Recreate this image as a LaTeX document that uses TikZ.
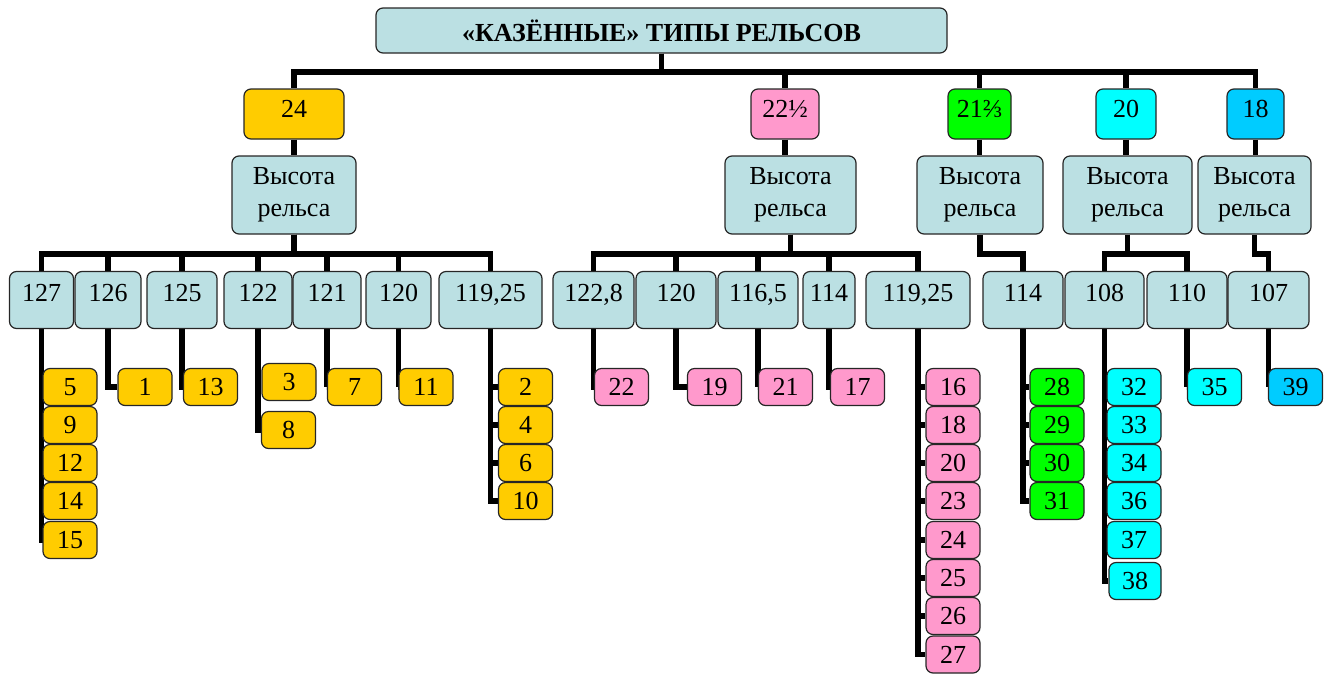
\documentclass[tikz,border=0pt]{standalone}
\usepackage{fontspec}
\setmainfont{Liberation Serif}
\newfontfamily\fracfont{DejaVu Serif}
\usetikzlibrary{backgrounds}
\definecolor{boxblue}{HTML}{BBE0E3}
\definecolor{cyel}{HTML}{FFCC00}
\definecolor{cpink}{HTML}{FF99CC}
\definecolor{cgreen}{HTML}{00FF00}
\definecolor{ccyan}{HTML}{00FFFF}
\definecolor{csky}{HTML}{00CCFF}
\newcommand\myhalf{\iffontchar\font"00BD ½\else{\fracfont ½}\fi}
\newcommand\mytwothirds{\iffontchar\font"2154 ⅔\else{\fracfont ⅔}\fi}
\tikzset{
  box/.style={draw=black!85, line width=1.2pt, rounded corners=7pt, inner sep=0pt,
    align=center, font=\fontsize{26}{32}\selectfont},
  titlebox/.style={box, fill=boxblue, minimum width=571, minimum height=45,
    font=\bfseries\fontsize{26}{30}\selectfont},
  lvlone/.style={box, minimum height=50, text height=17.5pt, text depth=10.5pt},
  heightbox/.style={box, fill=boxblue, minimum height=78},
  lvlthree/.style={box, fill=boxblue, minimum height=57, text height=17.5pt, text depth=15.5pt},
  leafbox/.style={box, minimum width=54, minimum height=37},
  conn/.style={line width=5.6pt, line join=miter, draw=black}
}
\begin{document}
\begin{tikzpicture}[x=1pt, y=-1pt]
\useasboundingbox (0,0) rectangle (1338,673);
% coordinates of the buses
\coordinate (busA) at (0,72);
\coordinate (busB) at (0,254);
% title
\node[titlebox] (title) at (661.5,30.5) {«КАЗЁННЫЕ» ТИПЫ РЕЛЬСОВ};
% level 1
\node[lvlone, fill=cyel, minimum width=100] (l24) at (294,114) {24};
\node[lvlone, fill=cpink, minimum width=68] (l22) at (785,114) {22\myhalf};
\node[lvlone, fill=cgreen, minimum width=63] (l21) at (979.5,114) {21\mytwothirds};
\node[lvlone, fill=ccyan, minimum width=60] (l20) at (1126,114) {20};
\node[lvlone, fill=csky, minimum width=57] (l18) at (1255.5,114) {18};
% level 2
\node[heightbox, minimum width=124] (h24) at (294,195) {Высота\\рельса};
\node[heightbox, minimum width=131] (h22) at (790.5,195) {Высота\\рельса};
\node[heightbox, minimum width=126] (h21) at (980,195) {Высота\\рельса};
\node[heightbox, minimum width=129] (h20) at (1127.5,195) {Высота\\рельса};
\node[heightbox, minimum width=113] (h18) at (1254.5,195) {Высота\\рельса};
% level 3
\node[lvlthree, minimum width=64] (a1) at (41.5,300) {127};
\node[lvlthree, minimum width=66] (a2) at (108,300) {126};
\node[lvlthree, minimum width=70] (a3) at (182,300) {125};
\node[lvlthree, minimum width=68] (a4) at (258,300) {122};
\node[lvlthree, minimum width=68] (a5) at (327,300) {121};
\node[lvlthree, minimum width=65] (a6) at (398.5,300) {120};
\node[lvlthree, minimum width=103] (a7) at (490.5,300) {119,25};
\node[lvlthree, minimum width=81] (b1) at (593.5,300) {122,8};
\node[lvlthree, minimum width=80] (b2) at (676,300) {120};
\node[lvlthree, minimum width=80] (b3) at (758,300) {116,5};
\node[lvlthree, minimum width=52] (b4) at (829,300) {114};
\node[lvlthree, minimum width=104] (b5) at (918,300) {119,25};
\node[lvlthree, minimum width=80] (c1) at (1023,300) {114};
\node[lvlthree, minimum width=79] (d1) at (1104.5,300) {108};
\node[lvlthree, minimum width=80] (d2) at (1187,300) {110};
\node[lvlthree, minimum width=81] (e1) at (1268.5,300) {107};
% leaves: 24
\node[leafbox, fill=cyel] (n5) at (70,387) {5};
\node[leafbox, fill=cyel] (n9) at (70,425) {9};
\node[leafbox, fill=cyel] (n12) at (70,463) {12};
\node[leafbox, fill=cyel] (n14) at (70,501) {14};
\node[leafbox, fill=cyel] (n15) at (70,540) {15};
\node[leafbox, fill=cyel] (n1) at (145,387) {1};
\node[leafbox, fill=cyel] (n13) at (210.5,387) {13};
\node[leafbox, fill=cyel] (n3) at (289,382) {3};
\node[leafbox, fill=cyel] (n8) at (288.5,430) {8};
\node[leafbox, fill=cyel] (n7) at (354.5,387) {7};
\node[leafbox, fill=cyel] (n11) at (426,387) {11};
\node[leafbox, fill=cyel] (n2) at (525.5,387) {2};
\node[leafbox, fill=cyel] (n4) at (525.5,425) {4};
\node[leafbox, fill=cyel] (n6) at (525.5,463) {6};
\node[leafbox, fill=cyel] (n10) at (525.5,501) {10};
% leaves: 22 1/2
\node[leafbox, fill=cpink] (n22) at (621.5,387) {22};
\node[leafbox, fill=cpink] (n19) at (714.5,387) {19};
\node[leafbox, fill=cpink] (n21) at (785.5,387) {21};
\node[leafbox, fill=cpink] (n17) at (857.5,387) {17};
\node[leafbox, fill=cpink] (n16) at (953,387) {16};
\node[leafbox, fill=cpink] (n18) at (953,425) {18};
\node[leafbox, fill=cpink] (n20) at (953,463) {20};
\node[leafbox, fill=cpink] (n23) at (953,501) {23};
\node[leafbox, fill=cpink] (n24) at (953,540) {24};
\node[leafbox, fill=cpink] (n25) at (953,578) {25};
\node[leafbox, fill=cpink] (n26) at (953,616) {26};
\node[leafbox, fill=cpink] (n27) at (953,654.5) {27};
% leaves: 21 2/3
\node[leafbox, fill=cgreen] (n28) at (1057,387) {28};
\node[leafbox, fill=cgreen] (n29) at (1057,425) {29};
\node[leafbox, fill=cgreen] (n30) at (1057,463) {30};
\node[leafbox, fill=cgreen] (n31) at (1057,501) {31};
% leaves: 20
\node[leafbox, fill=ccyan] (n32) at (1134,387) {32};
\node[leafbox, fill=ccyan] (n33) at (1134,425) {33};
\node[leafbox, fill=ccyan] (n34) at (1134,463) {34};
\node[leafbox, fill=ccyan] (n36) at (1134,501) {36};
\node[leafbox, fill=ccyan] (n37) at (1134,540) {37};
\node[leafbox, fill=ccyan, minimum width=52] (n38) at (1135,581) {38};
\node[leafbox, fill=ccyan] (n35) at (1214.5,387) {35};
% leaves: 18
\node[leafbox, fill=csky] (n39) at (1295.5,387) {39};
% connectors
\begin{pgfonlayer}{background}
\foreach \c in {l24,l22,l21,l20,l18}
  \draw[conn] (title.south) -- (title.south |- busA) -| (\c.north);
\foreach \p/\c in {l24/h24,l22/h22,l21/h21,l20/h20,l18/h18}
  \draw[conn] (\p.south) -- (\p.south |- \c.north);
\foreach \c in {a1,a2,a3,a4,a5,a6,a7}
  \draw[conn] (h24.south) -- (h24.south |- busB) -| (\c.north);
\foreach \c in {b1,b2,b3,b4,b5}
  \draw[conn] (h22.south) -- (h22.south |- busB) -| (\c.north);
\draw[conn] (h21.south) -- (h21.south |- busB) -| (c1.north);
\foreach \c in {d1,d2}
  \draw[conn] (h20.south) -- (h20.south |- busB) -| (\c.north);
\draw[conn] (h18.south) -- (h18.south |- busB) -| (e1.north);
\foreach \p/\c in {a1/n5,a1/n9,a1/n12,a1/n14,a1/n15,a2/n1,a3/n13,a4/n3,a4/n8,a5/n7,a6/n11,
  a7/n2,a7/n4,a7/n6,a7/n10,b1/n22,b2/n19,b3/n21,b4/n17,
  b5/n16,b5/n18,b5/n20,b5/n23,b5/n24,b5/n25,b5/n26,b5/n27,
  c1/n28,c1/n29,c1/n30,c1/n31,d1/n32,d1/n33,d1/n34,d1/n36,d1/n37,d1/n38,d2/n35,e1/n39}
  \draw[conn] (\p.south) |- (\c.west);
\end{pgfonlayer}
\end{tikzpicture}
\end{document}
